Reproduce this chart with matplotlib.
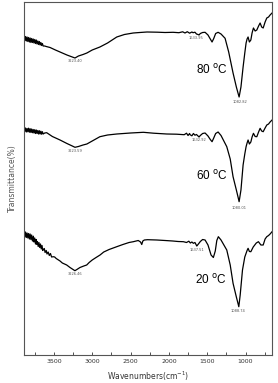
import matplotlib
matplotlib.use("Agg")
import matplotlib.pyplot as plt
from matplotlib.ticker import MultipleLocator

# ---- data (arbitrary transmittance units) ----
wn_80 = [3890, 3880, 3870, 3860, 3850, 3840, 3830, 3820, 3810, 3800, 3790, 3780, 3770,
         3760, 3750, 3740, 3730, 3720, 3710, 3700, 3690, 3680, 3670, 3660, 3650, 3640,
         3620, 3600, 3550, 3480, 3420, 3330, 3260, 3225, 3180, 3120, 3070, 3000, 2900,
         2800, 2680, 2580, 2465, 2380, 2285, 2150, 2050, 1945, 1870, 1820, 1790, 1760,
         1730, 1700, 1685, 1660, 1640, 1620, 1607, 1590, 1560, 1528, 1490, 1460, 1437,
         1415, 1390, 1358, 1320, 1267, 1220, 1163, 1120, 1095, 1084, 1060, 1032, 1010,
         993, 980, 967, 950, 931, 915, 897, 875, 853, 830, 810, 790, 770, 745, 723, 700,
         680, 654]
t_80 = [316.7, 314.5, 318.5, 314.0, 318.0, 313.5, 317.5, 313.0, 317.0, 312.5, 316.5, 312.5,
        316.0, 312.0, 315.5, 311.5, 315.0, 311.0, 314.0, 310.5, 313.5, 310.0, 312.5, 309.5,
        311.5, 309.0, 309.0, 308.5, 307.5, 305.0, 303.0, 300.0, 298.0, 297.0, 299.0, 300.5,
        302.0, 305.0, 308.0, 312.0, 318.0, 320.5, 322.0, 322.5, 323.0, 322.8, 322.5, 322.7,
        322.3, 323.2, 322.0, 323.3, 321.8, 323.0, 322.3, 322.8, 321.0, 320.5, 320.0, 321.5,
        322.5, 322.7, 320.0, 316.0, 313.0, 316.5, 321.5, 322.7, 321.0, 316.7, 303.0, 282.0,
        268.0, 261.0, 258.0, 268.0, 288.0, 302.0, 312.0, 316.0, 318.0, 313.0, 315.0, 322.0,
        327.0, 324.0, 325.0, 329.0, 332.0, 328.0, 327.0, 333.0, 337.0, 338.0, 340.0, 342.0]

wn_60 = [3890, 3880, 3870, 3860, 3850, 3840, 3830, 3820, 3810, 3800, 3790, 3780, 3770,
         3760, 3750, 3740, 3730, 3720, 3710, 3700, 3690, 3680, 3670, 3660, 3650, 3640,
         3620, 3594, 3520, 3420, 3330, 3260, 3225, 3180, 3120, 3070, 3000, 2900, 2800,
         2680, 2500, 2333, 2200, 2028, 1900, 1800, 1770, 1750, 1730, 1724, 1700, 1680,
         1660, 1640, 1620, 1607, 1590, 1560, 1528, 1490, 1460, 1437, 1415, 1390, 1358,
         1320, 1245, 1200, 1163, 1120, 1095, 1084, 1060, 1032, 1010, 993, 980, 967, 950,
         931, 915, 897, 875, 853, 830, 810, 790, 770, 745, 723, 700, 680, 654]
t_60 = [225.7, 223.5, 227.0, 223.0, 226.5, 223.2, 226.8, 222.8, 226.3, 222.5, 226.0, 222.3,
        225.5, 222.0, 225.3, 221.5, 225.0, 221.5, 224.5, 221.0, 224.3, 221.0, 223.8, 220.8,
        223.3, 221.0, 222.0, 222.3, 218.5, 215.0, 211.5, 209.0, 207.7, 208.5, 210.0, 211.0,
        214.0, 218.3, 220.0, 221.0, 222.0, 222.7, 221.8, 221.0, 220.8, 220.3, 221.8, 219.5,
        221.5, 220.3, 219.2, 221.5, 219.8, 220.5, 219.0, 218.0, 219.5, 221.5, 222.0, 219.0,
        215.5, 213.3, 217.0, 221.5, 223.0, 219.5, 208.3, 196.0, 178.3, 165.0, 157.0, 153.3,
        165.0, 190.0, 201.0, 208.3, 212.0, 215.0, 211.0, 213.0, 218.0, 221.7, 218.5, 218.3,
        223.0, 226.7, 224.0, 223.3, 227.0, 230.0, 231.0, 233.0, 235.0]

wn_20 = [3890, 3880, 3870, 3860, 3850, 3840, 3830, 3820, 3810, 3800, 3790, 3780, 3768,
         3760, 3750, 3740, 3730, 3724, 3715, 3705, 3695, 3685, 3675, 3665, 3655, 3645,
         3638, 3625, 3615, 3600, 3590, 3575, 3560, 3545, 3530, 3508, 3490, 3470, 3450,
         3420, 3390, 3333, 3290, 3250, 3226, 3200, 3160, 3110, 3072, 3040, 3000, 2950,
         2898, 2850, 2780, 2680, 2600, 2520, 2464, 2400, 2370, 2354, 2340, 2320, 2280,
         2158, 2050, 1950, 1880, 1811, 1770, 1740, 1720, 1700, 1681, 1660, 1636, 1615,
         1590, 1560, 1528, 1490, 1450, 1420, 1395, 1375, 1355, 1320, 1245, 1200, 1163,
         1120, 1100, 1088, 1070, 1040, 1010, 993, 980, 967, 950, 931, 900, 860, 832, 800,
         770, 745, 723, 700, 680, 654]
t_20 = [121.7, 118.0, 123.0, 117.5, 122.0, 117.0, 121.5, 116.0, 121.0, 115.5, 120.0, 114.0,
        118.8, 113.0, 117.0, 111.0, 115.5, 110.7, 113.5, 108.5, 112.5, 107.5, 111.0, 106.0,
        109.5, 104.5, 105.5, 106.5, 102.5, 104.5, 101.0, 103.0, 99.5, 101.5, 98.0, 98.3,
        98.0, 96.5, 95.5, 94.0, 92.0, 90.0, 87.5, 85.5, 84.3, 85.5, 87.5, 89.0, 90.0, 92.5,
        95.0, 97.5, 100.0, 103.0, 105.5, 108.3, 110.5, 112.5, 113.3, 114.5, 113.0, 110.5,
        114.0, 115.0, 115.3, 115.0, 114.5, 114.0, 113.5, 113.3, 112.5, 113.8, 112.0, 113.0,
        111.7, 112.5, 109.0, 111.0, 113.5, 115.5, 115.0, 110.0, 100.0, 97.5, 104.0, 114.5,
        118.3, 115.0, 105.0, 90.0, 71.7, 58.0, 52.0, 48.3, 60.0, 85.0, 98.0, 101.7, 104.5,
        106.7, 103.5, 103.3, 108.0, 112.0, 113.3, 110.0, 110.0, 116.0, 118.3, 119.5, 121.0,
        123.3]

curve_wn = [wn_80, wn_60, wn_20]
curve_t = [t_80, t_60, t_20]
temp_labels = ["80", "60", "20"]
temp_label_pos = [(1440, 285), (1440, 179), (1450, 75)]

peak_labels = ["3223.40", "1633.95", "1082.82",
               "3223.59", "1632.92", "1080.01",
               "3226.46", "1637.51", "1088.74"]
peak_label_pos = [(3223, 294), (1645, 316.5), (1071, 252.5),
                  (3223, 203.5), (1606, 215), (1084, 146.5),
                  (3226, 81), (1636, 105), (1093, 44)]

xticks = [3500, 3000, 2500, 2000, 1500, 1000]
xlim = (3890, 655)
ylim = (0, 353)

# ---- figure ----
fig = plt.figure(figsize=(2.78, 3.83), dpi=100)
ax = fig.add_axes([24 / 278, 28 / 383, 248 / 278, 353 / 383])

for w, t in zip(curve_wn, curve_t):
    ax.plot(w, t, color="black", lw=0.9, solid_joinstyle="round")

for txt, (x, y) in zip(temp_labels, temp_label_pos):
    ax.text(x, y, txt + r" $^{\mathrm{o}}$C", fontsize=8.5, ha="center", va="center",
            color="black", family="Liberation Sans")

for txt, (x, y) in zip(peak_labels, peak_label_pos):
    ax.text(x, y, txt, fontsize=2.6, ha="center", va="center", color="#555555")

ax.set_xlim(*xlim)
ax.set_ylim(*ylim)
ax.set_xticks(xticks)
ax.xaxis.set_minor_locator(MultipleLocator(250))
ax.set_yticks([])
ax.tick_params(axis="x", which="both", direction="in", length=2, width=0.6,
               labelsize=4.5, pad=3, colors="#333333")
for s in ax.spines.values():
    s.set_color("#555555")
    s.set_linewidth(0.8)

ax.set_xlabel("Wavenumbers(cm$^{-1}$)", fontsize=5.5, color="#333333", labelpad=4)
ax.set_ylabel("Transmittance(%)", fontsize=5.5, color="#555555", labelpad=5)

fig.savefig("out.png", dpi=100)
